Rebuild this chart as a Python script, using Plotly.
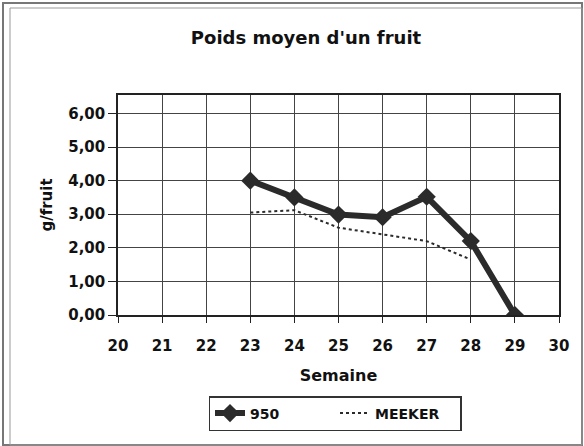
import plotly.graph_objects as go

weeks = [23, 24, 25, 26, 27, 28, 29]
poids_950 = [4.00, 3.50, 2.99, 2.91, 3.52, 2.20, 0.00]
weeks_meeker = [23, 24, 25, 26, 27, 28]
poids_meeker = [3.05, 3.12, 2.60, 2.40, 2.20, 1.65]
x_ticks = list(range(20, 31))
y_ticks = [0, 1, 2, 3, 4, 5, 6]

W, H = 584, 446
L, R, T, B = 118, 25, 95, 131
pw, ph = W - L - R, H - T - B

def px(xp):
    return (xp - L) / pw

def py(yp):
    return (H - B - yp) / ph

FAM = "DejaVu Sans, Liberation Sans, Arial, sans-serif"

fig = go.Figure()
fig.add_trace(go.Scatter(
    x=weeks, y=poids_950, name="950", mode="lines+markers",
    line=dict(color="#2b2b2b", width=6),
    marker=dict(symbol="diamond", size=14, color="#2b2b2b"),
))
fig.add_trace(go.Scatter(
    x=weeks_meeker, y=poids_meeker, name="MEEKER", mode="lines",
    line=dict(color="#2b2b2b", width=2, dash="dot"),
))

axis_font = dict(family=FAM, size=15, color="#111", weight="bold")
fig.update_layout(
    width=W, height=H,
    margin=dict(l=L, r=R, t=T, b=B),
    paper_bgcolor="white", plot_bgcolor="white",
    separators=", ",
    title=dict(text="Poids moyen d'un fruit", x=306 / W, xanchor="center",
               y=1 - 38 / H, yanchor="middle",
               font=dict(family=FAM, size=18, color="#111", weight="bold")),
    xaxis=dict(range=[20, 30], tickvals=x_ticks, showgrid=True, gridcolor="#444", gridwidth=1,
               showline=True, linecolor="#222", linewidth=1.5, mirror=True,
               ticks="outside", ticklen=6, tickcolor="#222", zeroline=False,
               ticklabelstandoff=10,
               tickfont=axis_font,
               title=dict(text="Semaine", standoff=16,
                          font=dict(family=FAM, size=16, color="#111", weight="bold"))),
    yaxis=dict(range=[0, 6.55], tickvals=y_ticks, tickformat=".2f", showgrid=True,
               gridcolor="#444", gridwidth=1, showline=True, linecolor="#222", linewidth=1.5,
               mirror=True, ticks="outside", ticklen=8, tickcolor="#222", zeroline=False,
               tickfont=axis_font,
               title=dict(text="g/fruit", standoff=12,
                          font=dict(family=FAM, size=15, color="#111", weight="bold"))),
    legend=dict(orientation="h", x=px(335), xanchor="center", y=py(431), yanchor="bottom",
                bordercolor="#333", borderwidth=1.5, bgcolor="white",
                font=dict(family=FAM, size=14, color="#111", weight="bold"),
                tracegroupgap=0, itemwidth=30, entrywidth=80),
    showlegend=True,
    shapes=[
        dict(type="rect", xref="paper", yref="paper", x0=px(3), x1=px(582), y0=py(445), y1=py(3),
             line=dict(color="#777", width=2)),
        dict(type="rect", xref="paper", yref="paper", x0=px(10), x1=px(582), y0=py(445), y1=py(8),
             line=dict(color="#999", width=1)),
    ],
)

fig.write_html("out.html", config={"displayModeBar": False},
               post_script="document.body.style.margin='0';document.body.style.overflow='hidden';")
